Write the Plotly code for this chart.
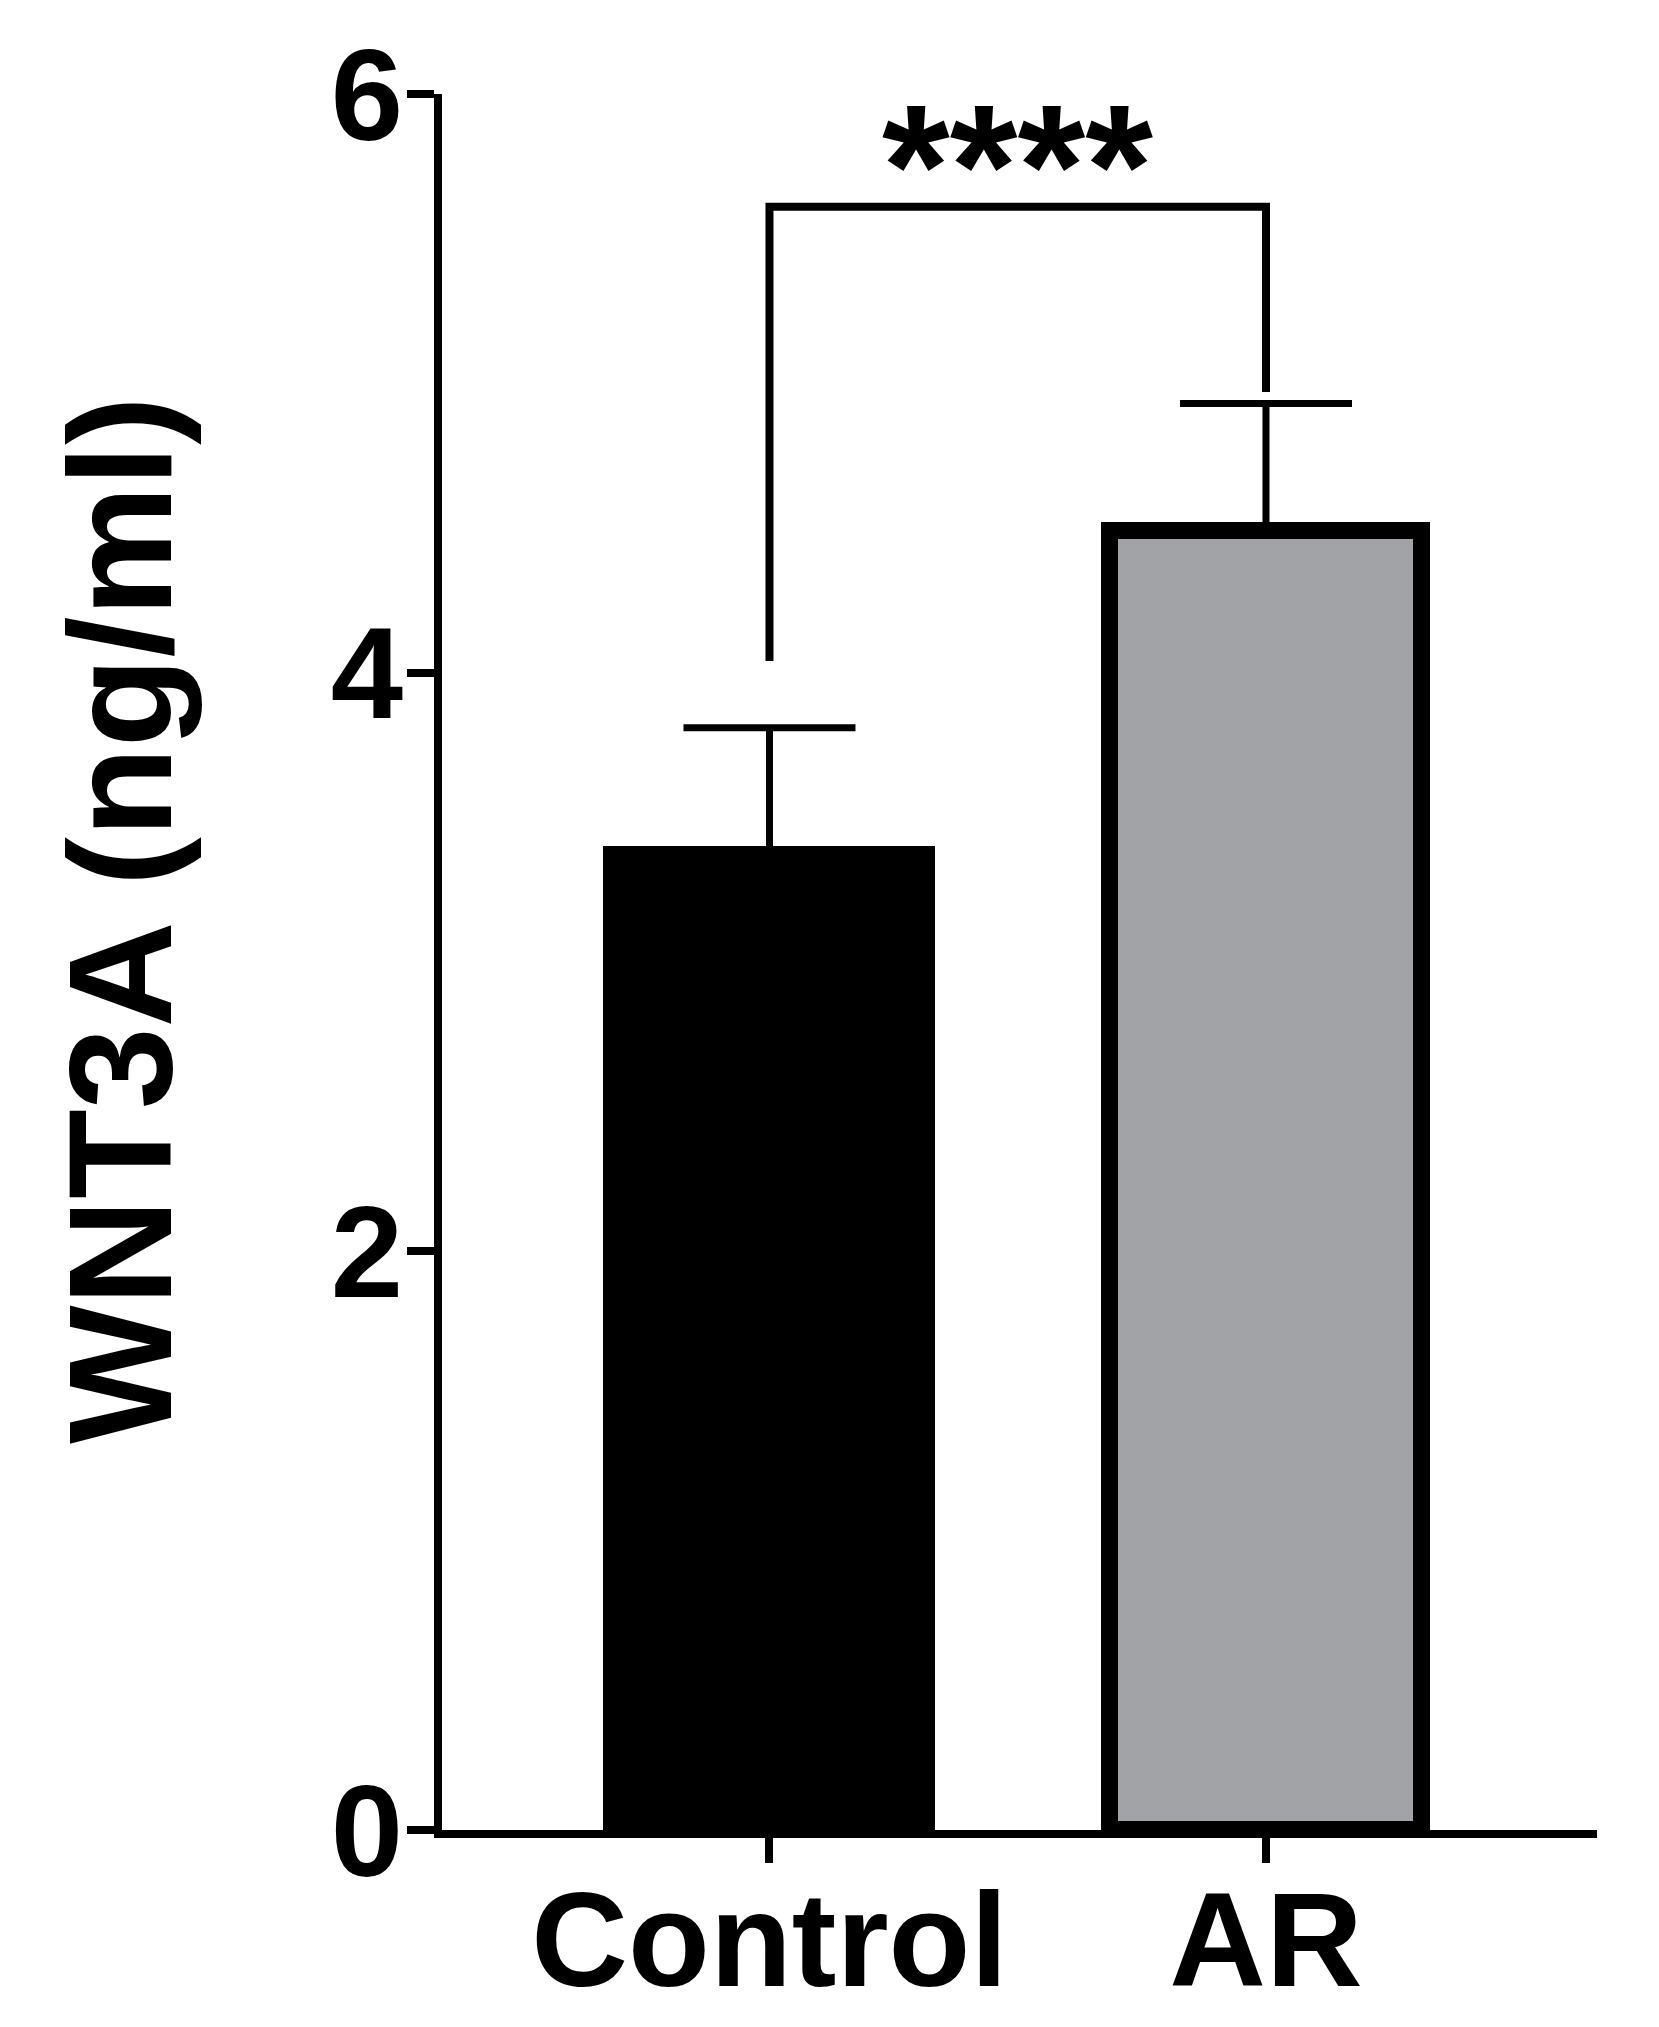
import plotly.graph_objects as go

# ---- data ----
categories = ["Control", "AR"]
means = [3.37, 4.49]
sem = [0.44, 0.44]
bar_colors = ["#000000", "#a2a3a7"]
bar_widths = [0.636, 0.628]
y_ticks = [0, 2, 4, 6]
# significance bracket: left end, top, right end (y values)
bracket_y = [4.04, 5.61, 4.97]
sig_label = "****"
y_title = "WNT3A (ng/ml)"

FONT = "Liberation Sans, Arial, Helvetica, sans-serif"
W, H = 1659, 2027
ML, MR, MT, MB = 434, 70, 86, 205
LW = 8

fig = go.Figure()
fig.add_trace(go.Bar(
    x=[0, 1], y=means, width=bar_widths,
    marker=dict(color=bar_colors, line=dict(color="#000000", width=17)),
    error_y=dict(type="data", symmetric=False, array=sem, arrayminus=[0, 0],
                 color="#000000", thickness=7, width=86),
    showlegend=False,
))

# significance bracket
fig.add_shape(type="path",
              path=f"M 0 {bracket_y[0]} L 0 {bracket_y[1]} L 1 {bracket_y[1]} L 1 {bracket_y[2]}",
              xref="x", yref="y", line=dict(color="#000000", width=8))
fig.add_annotation(x=0.5, y=bracket_y[1], xref="x", yref="y", text=f"<b>{sig_label}</b>",
                   showarrow=False, yanchor="bottom", yshift=-58,
                   font=dict(family=FONT, size=174, color="#000000"))

# y title as rotated annotation
PW = W - ML - MR
PH = H - MT - MB
fig.add_annotation(x=(112 - ML) / PW, y=(H - MB - 912) / PH,
                   xref="paper", yref="paper", text=f"<b>{y_title}</b>",
                   textangle=-90, showarrow=False, xanchor="center", yanchor="middle",
                   font=dict(family=FONT, size=147, color="#000000"))

fig.update_layout(
    width=W, height=H,
    margin=dict(l=ML, r=MR, t=MT, b=MB, autoexpand=False),
    paper_bgcolor="white", plot_bgcolor="white",
    bargap=0,
    font=dict(family=FONT, color="#000000"),
)
fig.update_xaxes(
    range=[-0.6596, 1.6667], tickvals=[0, 1],
    ticktext=[f"<b>{c}</b>" for c in categories],
    showline=True, linecolor="#000000", linewidth=LW,
    ticks="outside", ticklen=25, tickwidth=LW, tickcolor="#000000",
    ticklabelstandoff=-38,
    showgrid=False, zeroline=False, automargin=False,
    tickfont=dict(family=FONT, size=134, color="#000000"),
)
fig.update_yaxes(
    range=[0, 6], tickvals=y_ticks,
    ticktext=[f"<b>{t}</b>" for t in y_ticks],
    showline=True, linecolor="#000000", linewidth=LW,
    ticks="outside", ticklen=27, tickwidth=LW, tickcolor="#000000",
    ticklabelstandoff=-22,
    showgrid=False, zeroline=False, automargin=False,
    tickfont=dict(family=FONT, size=130, color="#000000"),
)

fig.write_html("out.html")
